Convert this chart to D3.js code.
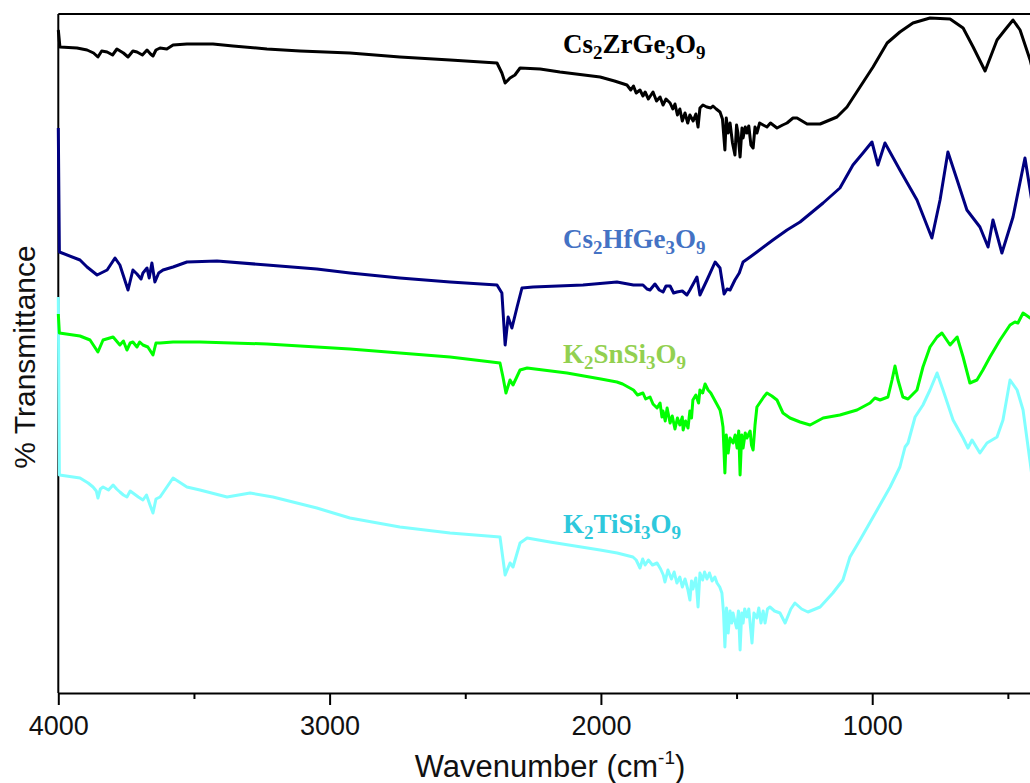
<!doctype html>
<html>
<head>
<meta charset="utf-8">
<script src="https://d3js.org/d3.v7.min.js"></script>
<style>
  body { margin: 0; background: #fff; }
  .axis path, .axis line { stroke: #000; stroke-width: 2; }
  .axis text { font-family: "Liberation Sans", Arial, sans-serif; font-size: 27px; fill: #111; }
  .series { fill: none; stroke-width: 3; stroke-linejoin: round; }
  .lbl { font-family: "Liberation Serif", "Times New Roman", serif; font-weight: bold; font-size: 27px; }
</style>
</head>
<body>
<svg id="chart" width="1030" height="783"></svg>
<script>
// [wavenumber (cm-1), transmittance (a.u., spectra offset)]
var cs2zrge3o9 = [
  [4000,663],[3994,646],[3931,645],[3894,643],[3870,640],[3854,636],[3840,642],[3820,641],
  [3800,638],[3784,644],[3760,640],[3743,636],[3725,642],[3710,641],[3690,638],[3673,643],
  [3660,639],[3651,637],[3640,643],[3625,645],[3600,644],[3577,648],[3526,649],[3430,649],
  [3356,647],[3231,644],[3109,642],[2925,640],[2741,636],[2556,633],[2383,630],[2365,620],
  [2353,610],[2335,615],[2317,618],[2298,625],[2224,624],[2151,621],[2003,616],[1950,612],
  [1904,608],[1890,603],[1880,607],[1870,600],[1856,603],[1845,597],[1837,601],[1825,594],
  [1808,601],[1795,592],[1782,596],[1771,588],[1760,594],[1745,590],[1735,584],[1727,589],
  [1718,578],[1709,584],[1700,572],[1690,580],[1680,570],[1672,578],[1660,572],[1650,579],
  [1642,566],[1635,585],[1624,588],[1610,586],[1595,585],[1587,587],[1575,584],[1561,581],
  [1552,574],[1543,543],[1538,575],[1531,560],[1524,570],[1515,550],[1506,538],[1500,568],
  [1495,560],[1487,536],[1480,565],[1476,555],[1468,566],[1462,560],[1455,567],[1447,548],
  [1439,545],[1432,566],[1425,560],[1415,570],[1402,568],[1388,566],[1375,570],[1351,565],
  [1330,568],[1314,570],[1292,575],[1277,575],[1240,569],[1192,569],[1130,576],[1093,586],
  [1045,606],[997,626],[945,650],[898,661],[850,670],[787,675],[713,674],[665,665],
  [628,646],[584,622],[540,653],[511,663],[481,673],[455,663],[418,633],[400,613]
];
var cs2hfge3o9 = [
  [4000,565],[3996,441],[3920,433],[3894,426],[3857,418],[3820,423],[3791,435],[3773,428],
  [3743,403],[3725,423],[3710,419],[3695,414],[3688,420],[3673,425],[3665,415],[3655,430],
  [3644,411],[3630,420],[3614,423],[3577,426],[3526,431],[3415,432],[3231,428],[3047,424],
  [2925,420],[2741,415],[2556,411],[2383,408],[2365,400],[2353,348],[2342,376],[2328,365],
  [2309,386],[2291,405],[2250,406],[2066,408],[1941,411],[1880,408],[1845,408],[1830,404],
  [1819,403],[1801,409],[1785,403],[1771,401],[1760,407],[1745,407],[1732,400],[1720,401],
  [1700,402],[1683,398],[1672,403],[1646,416],[1635,398],[1609,413],[1579,431],[1561,425],
  [1546,399],[1535,404],[1524,403],[1506,413],[1490,420],[1476,431],[1450,436],[1425,441],
  [1366,453],[1314,463],[1266,471],[1181,490],[1119,505],[1071,528],[1034,540],[1001,551],
  [979,528],[953,550],[898,523],[835,493],[780,455],[750,493],[721,541],[687,513],
  [651,483],[603,466],[573,446],[555,473],[522,440],[481,476],[437,535],[418,503],[400,471]
];
var k2snsi3o9 = [
  [4000,379],[3996,360],[3920,357],[3883,353],[3854,341],[3835,353],[3798,356],[3773,348],
  [3760,352],[3747,343],[3735,350],[3725,351],[3710,346],[3700,351],[3688,348],[3670,346],
  [3651,338],[3640,350],[3625,350],[3577,351],[3478,351],[3231,349],[2925,344],[2741,340],
  [2556,336],[2372,330],[2361,316],[2350,300],[2335,313],[2324,308],[2298,323],[2272,325],
  [2125,320],[2000,314],[1941,311],[1920,309],[1900,306],[1880,303],[1865,298],[1845,300],
  [1835,294],[1819,296],[1808,289],[1793,285],[1782,290],[1775,276],[1771,282],[1763,272],
  [1756,285],[1745,270],[1737,277],[1727,264],[1718,275],[1709,268],[1700,276],[1697,263],
  [1688,272],[1679,265],[1672,282],[1666,275],[1661,293],[1650,298],[1640,290],[1635,303],
  [1625,300],[1616,309],[1605,303],[1595,300],[1587,296],[1575,290],[1561,283],[1555,275],
  [1550,266],[1543,220],[1538,258],[1531,240],[1524,255],[1513,250],[1505,258],[1498,245],
  [1492,262],[1487,218],[1481,258],[1476,245],[1468,260],[1462,255],[1450,262],[1445,248],
  [1439,243],[1432,268],[1425,286],[1400,296],[1388,300],[1370,297],[1351,293],[1329,280],
  [1303,275],[1266,271],[1229,268],[1181,275],[1119,278],[1056,283],[1008,290],[990,295],
  [971,293],[942,296],[927,313],[916,327],[905,313],[887,296],[868,294],[835,303],
  [813,326],[787,346],[761,356],[743,360],[713,348],[687,356],[665,336],[640,310],
  [614,313],[592,323],[566,336],[529,353],[492,368],[474,371],[463,370],[444,380],
  [418,375],[400,378]
];
var k2tisi3o9 = [
  [4000,396],[3996,218],[3920,215],[3890,210],[3872,206],[3860,202],[3854,195],[3845,204],
  [3835,206],[3815,203],[3798,208],[3785,204],[3773,201],[3760,198],[3747,196],[3735,202],
  [3725,200],[3705,196],[3688,193],[3675,198],[3662,188],[3651,180],[3640,194],[3625,196],
  [3577,215],[3526,206],[3478,203],[3378,196],[3293,200],[3209,196],[3047,185],[2925,175],
  [2741,166],[2556,160],[2372,156],[2353,118],[2335,130],[2324,126],[2298,150],[2272,155],
  [2188,151],[2003,143],[1940,140],[1882,136],[1870,133],[1856,125],[1846,134],[1837,128],
  [1825,133],[1810,128],[1793,130],[1780,124],[1770,118],[1764,111],[1753,123],[1740,114],
  [1730,121],[1720,110],[1709,116],[1700,106],[1690,114],[1680,104],[1672,93],[1666,112],
  [1661,104],[1650,115],[1642,86],[1635,120],[1625,113],[1618,121],[1609,114],[1600,120],
  [1590,112],[1580,116],[1572,110],[1562,106],[1554,100],[1548,80],[1543,46],[1537,85],
  [1531,60],[1524,82],[1518,70],[1513,80],[1500,65],[1493,82],[1487,43],[1481,80],
  [1476,70],[1470,84],[1462,76],[1455,84],[1443,50],[1436,80],[1425,75],[1418,85],
  [1410,70],[1402,82],[1395,70],[1386,84],[1377,86],[1360,82],[1340,80],[1321,70],
  [1300,84],[1285,90],[1260,84],[1237,81],[1192,86],[1145,100],[1108,113],[1082,136],
  [1045,153],[982,183],[934,206],[898,226],[879,246],[868,250],[842,276],[813,288],
  [787,303],[761,320],[739,303],[702,273],[665,255],[647,245],[632,253],[603,240],
  [577,250],[540,256],[518,273],[492,313],[466,303],[444,283],[418,231],[400,193]
];

var seriesData = [k2tisi3o9, k2snsi3o9, cs2hfge3o9, cs2zrge3o9];
var lineColors = ["#80ffff", "#00ff00", "#000080", "#000000"];

var majorTicks = [4000, 3000, 2000, 1000];
var minorTicks = [3500, 2500, 1500, 500];

// label text pieces: [normal, subscript, normal, subscript, ...]
var labelParts = [
  ["K", "2", "TiSi", "3", "O", "9"],
  ["K", "2", "SnSi", "3", "O", "9"],
  ["Cs", "2", "HfGe", "3", "O", "9"],
  ["Cs", "2", "ZrGe", "3", "O", "9"]
];
var labelColors = ["#2ec8dc", "#92d050", "#4472c4", "#000000"];
var labelAt = [[2140, 160], [2140, 330], [2140, 445], [2140, 640]];

var svg = d3.select("#chart");
var plotL = 58.3, plotT = 14, plotB = 693, plotR = 1035;

var x = d3.scaleLinear().domain([4000, 400]).range([plotL, plotR]);
var y = d3.scaleLinear().domain([0, 679]).range([plotB, plotT]);

// frame
svg.append("line").attr("x1", plotL).attr("x2", plotR).attr("y1", plotT).attr("y2", plotT)
   .attr("stroke", "#000").attr("stroke-width", 2);
svg.append("line").attr("x1", plotL).attr("x2", plotL).attr("y1", plotT).attr("y2", plotB)
   .attr("stroke", "#000").attr("stroke-width", 2);

svg.append("g").attr("class", "axis")
   .attr("transform", "translate(0," + plotB + ")")
   .call(d3.axisBottom(x).tickValues(majorTicks).tickSize(12).tickPadding(11)
     .tickFormat(d3.format("d")).tickSizeOuter(0));
svg.append("g").attr("class", "axis")
   .attr("transform", "translate(0," + plotB + ")")
   .call(d3.axisBottom(x).tickValues(minorTicks).tickSize(6).tickFormat("").tickSizeOuter(0))
   .select(".domain").remove();

var line = d3.line().x(function(d) { return x(d[0]); }).y(function(d) { return y(d[1]); });

svg.selectAll(".series")
   .data(seriesData)
   .enter().append("path")
   .attr("class", "series")
   .attr("stroke", function(d, i) { return lineColors[i]; })
   .attr("d", line);

// compound labels
labelParts.forEach(function(parts, i) {
  var t = svg.append("text").attr("class", "lbl")
     .attr("x", x(labelAt[i][0])).attr("y", y(labelAt[i][1]))
     .attr("fill", labelColors[i]);
  parts.forEach(function(p, j) {
    var sub = j % 2 === 1;
    t.append("tspan")
     .attr("dy", sub ? 6 : (j > 0 ? -6 : 0))
     .attr("font-size", sub ? "19px" : null)
     .text(p);
  });
});

// axis titles
var xt = svg.append("text")
   .attr("x", 550).attr("y", 777)
   .attr("text-anchor", "middle")
   .style("font-family", "'Liberation Sans', Arial, sans-serif")
   .style("font-size", "31px").attr("fill", "#111");
xt.append("tspan").text("Wavenumber (cm");
xt.append("tspan").attr("dy", -13).style("font-size", "19px").text("-1");
xt.append("tspan").attr("dy", 13).text(")");

svg.append("text")
   .attr("transform", "translate(35,357) rotate(-90)")
   .attr("text-anchor", "middle")
   .style("font-family", "'Liberation Sans', Arial, sans-serif")
   .style("font-size", "30px").attr("fill", "#111")
   .text("% Transmittance");
</script>
</body>
</html>
